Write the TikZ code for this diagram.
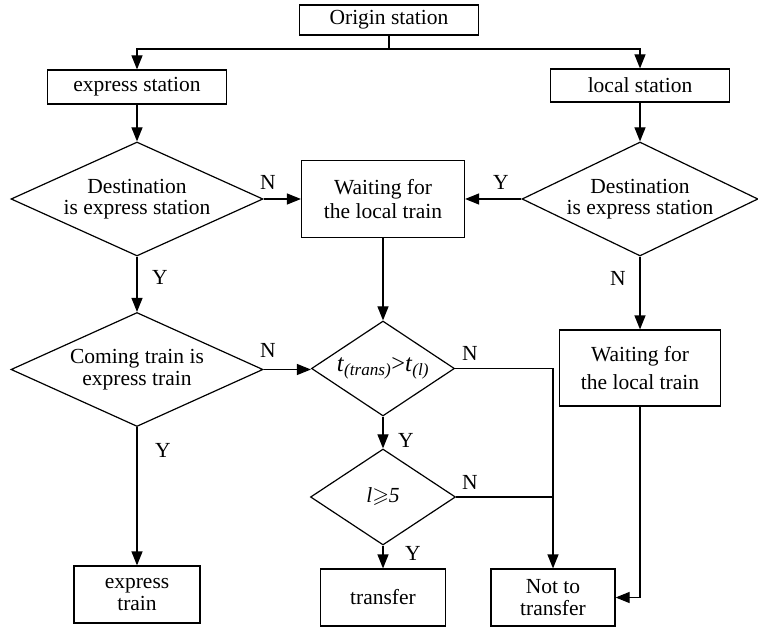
\documentclass[tikz,border=0pt]{standalone}
\usepackage{fontspec}
\setmainfont{Liberation Serif}
\usepackage{amssymb}
\usetikzlibrary{shapes.geometric,arrows.meta}

\begin{document}
\begin{tikzpicture}[x=1pt, y=-1pt,
  every node/.style={font=\fontsize{21.5}{21.5}\selectfont},
  box/.style={draw, line width=1.2pt, rectangle, inner sep=0pt, align=center},
  decision/.style={draw, line width=1.2pt, diamond, aspect=2.2, inner sep=0pt, align=center},
  link/.style={line width=1.2pt},
  arr/.style={line width=1.2pt, -{Triangle[length=14pt, width=11pt]}}]

  \useasboundingbox (0,0) rectangle (758,631);

  % boxes and decisions
  \node[box, minimum width=179pt, minimum height=30pt] (origin) at (389,20) {Origin station};
  \coordinate (split) at (389,49);
  \node[box, minimum width=179pt, minimum height=34pt] (exst) at (137,87) {express station};
  \node[box, minimum width=179pt, minimum height=33pt] (lost) at (640,85.5) {local station};
  \node[decision, minimum width=252pt, minimum height=114pt] (dest1) at (137,199) {Destination\\is express station};
  \node[box, minimum width=163pt, minimum height=77pt] (wait1) at (383,199) {Waiting for\\[3pt]the local train};
  \node[decision, minimum width=236pt, minimum height=114pt] (dest2) at (640,199) {Destination\\is express station};
  \node[decision, minimum width=252pt, minimum height=114pt] (coming) at (137,369.5) {Coming train is\\express train};
  \node[decision, aspect=1.5, minimum width=143pt, minimum height=95pt, font=\fontsize{24.5}{24.5}\selectfont] (tcmp) at (383,368.5)
    {\textit{t}\textsubscript{\textit{(trans)}}>\textit{t}\textsubscript{\textit{(l)}}};
  \node[box, minimum width=161pt, minimum height=76pt] (wait2) at (640,368) {Waiting for\\[7pt]the local train};
  \node[decision, aspect=1.5, minimum width=145pt, minimum height=96pt] (lcmp) at (383,497) {\textit{l}$\geqslant$\textit{5}};
  \node[box, minimum width=126pt, minimum height=57pt] (extr) at (137,594.5) {express\\train};
  \node[box, minimum width=125pt, minimum height=57pt] (trans) at (383,597.5) {transfer};
  \node[box, minimum width=124pt, minimum height=57pt] (nott) at (553,597.5) {Not to\\transfer};

  % branch labels
  \node (n1) at (268,182) {N};
  \node (y1) at (501,182) {Y};
  \node (y2) at (160,277) {Y};
  \node (n2) at (618,278) {N};
  \node (n3) at (268,350) {N};
  \node (n4) at (470,353) {N};
  \node (y3) at (406,440) {Y};
  \node (y4) at (163,450) {Y};
  \node (n5) at (470,482) {N};
  \node (y5) at (413,553) {Y};

  % connectors
  \draw[link] (origin) -- (split);
  \draw[arr] (split) -| (exst);
  \draw[arr] (split) -| (lost);
  \draw[arr] (exst) -- (dest1);
  \draw[arr] (lost) -- (dest2);
  \draw[arr] (dest1.east) -- (dest1.east -| wait1.west);
  \draw[arr] (dest2.west) -- (dest2.west -| wait1.east);
  \draw[arr] (dest1) -- (coming);
  \draw[arr] (dest2) -- (wait2);
  \draw[arr] (wait1) -- (tcmp);
  \draw[arr] (coming.east) -- (coming.east -| tcmp.west);
  \draw[arr] (coming.south) -- (coming.south |- extr.north);
  \draw[arr] (tcmp) -- (lcmp);
  \draw[arr] (lcmp) -- (trans);
  \draw[arr] (tcmp.east) -| (nott.north);
  \draw[link] (lcmp.east) -- (lcmp.east -| nott.north);
  \draw[arr] (wait2.south) |- (nott.east);

\end{tikzpicture}
\end{document}
